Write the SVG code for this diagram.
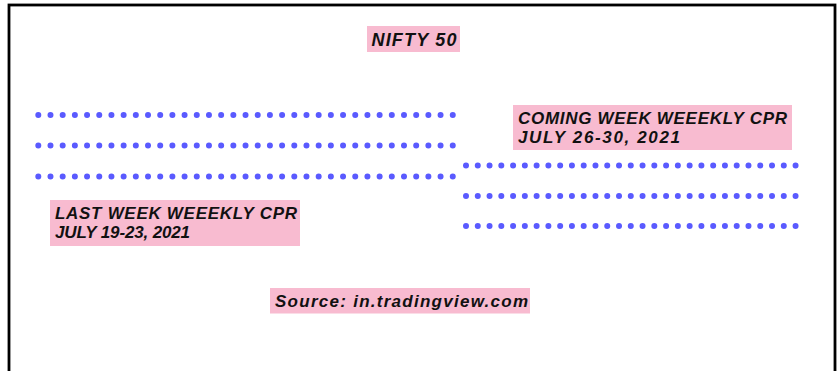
<svg xmlns="http://www.w3.org/2000/svg" width="838" height="371" viewBox="0 0 838 371">
  <style>
    .frame { fill: #ffffff; stroke: #000000; stroke-width: 2.8; }
    .tag { fill: #f8bbd0; }
    .label { font-family: "Liberation Sans", "Arial", sans-serif; font-weight: bold; font-style: italic; fill: #111111; font-size: 17px; }
    .cpr-left { stroke: #5a5aff; stroke-width: 6; stroke-linecap: round; stroke-dasharray: 0 12.19; fill: none; }
    .cpr-right { stroke: #5a5aff; stroke-width: 6; stroke-linecap: round; stroke-dasharray: 0 11.77; fill: none; }
  </style>

  <!-- chart frame (bottom edge runs off the canvas) -->
  <rect class="frame" x="9" y="5" width="826" height="380"/>

  <!-- CPR levels drawn as dotted lines -->
  <g id="cpr-lines">
    <g id="last-week-cpr">
      <line class="cpr-left" x1="38.3" y1="115" x2="453" y2="115"/>
      <line class="cpr-left" x1="38.3" y1="145.5" x2="453" y2="145.5"/>
      <line class="cpr-left" x1="38.3" y1="176.5" x2="453" y2="176.5"/>
    </g>
    <g id="coming-week-cpr">
      <line class="cpr-right" x1="466" y1="165.5" x2="796" y2="165.5"/>
      <line class="cpr-right" x1="466" y1="196" x2="796" y2="196"/>
      <line class="cpr-right" x1="466" y1="226" x2="796" y2="226"/>
    </g>
  </g>

  <g id="title">
    <rect class="tag" x="367" y="26" width="93" height="26"/>
    <text class="label" x="371.5" y="46" style="font-size:18px" textLength="85" lengthAdjust="spacing">NIFTY 50</text>
  </g>

  <g id="coming-week-label">
    <rect class="tag" x="513" y="105" width="279" height="45"/>
    <text class="label" x="518" y="123.5" textLength="269" lengthAdjust="spacing">COMING WEEK WEEEKLY CPR</text>
    <text class="label" x="518" y="143" textLength="162" lengthAdjust="spacing">JULY 26-30, 2021</text>
  </g>

  <g id="last-week-label">
    <rect class="tag" x="50" y="200" width="250" height="46"/>
    <text class="label" x="55" y="218.5" textLength="242" lengthAdjust="spacing">LAST WEEK WEEEKLY CPR</text>
    <text class="label" x="55" y="238" textLength="135" lengthAdjust="spacing">JULY 19-23, 2021</text>
  </g>

  <g id="source">
    <rect class="tag" x="270" y="288" width="260" height="25.5"/>
    <text class="label" x="275" y="306.5" textLength="253" lengthAdjust="spacing">Source: in.tradingview.com</text>
  </g>
</svg>
